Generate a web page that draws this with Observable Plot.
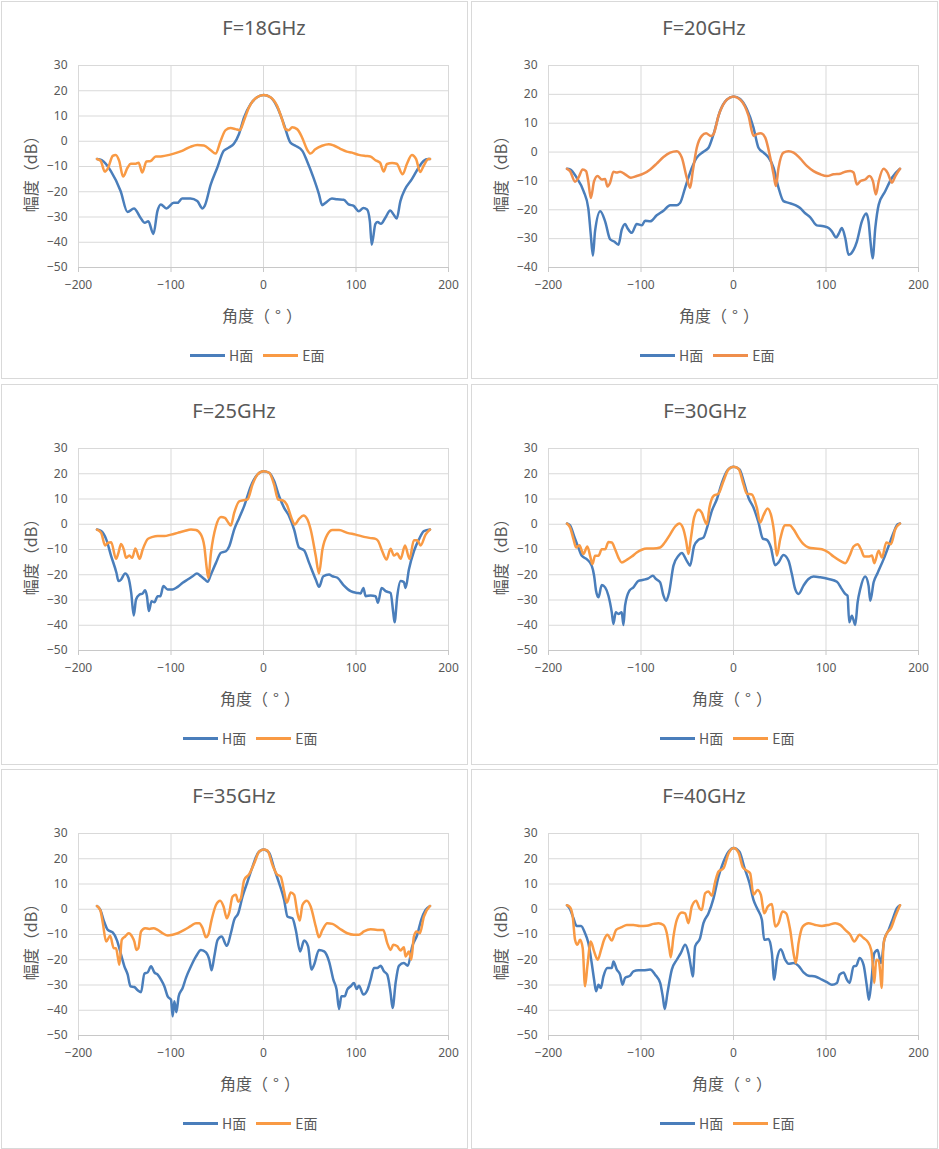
<!DOCTYPE html>
<html><head><meta charset="utf-8">
<script src="https://cdn.jsdelivr.net/npm/d3@7"></script>
<script src="https://cdn.jsdelivr.net/npm/@observablehq/plot@0.6"></script>
<style>
html,body{margin:0;padding:0;background:#fff;}
body{width:939px;height:1149px;position:relative;overflow:hidden;font-family:"Noto Sans","Noto Sans CJK SC",sans-serif;color:#595959;}
.panel{position:absolute;box-shadow:inset 0 0 0 1px #d9d9d9;background:#fff;}
.panel svg{position:absolute;left:0;top:0;}
.ttl{position:absolute;transform:translate(-50%,-50%);font-size:20px;line-height:1;white-space:nowrap;color:#595959;}
.xl{position:absolute;transform:translate(-50%,-50%);font-size:16px;line-height:1;white-space:nowrap;font-family:"Noto Sans CJK SC",sans-serif;color:#595959;}
.xl .fw{display:inline-block;width:1em;text-align:center;}
.yl{position:absolute;transform:translate(-50%,-50%) rotate(-90deg);font-size:16px;line-height:1;white-space:nowrap;font-family:"Noto Sans CJK SC",sans-serif;color:#595959;}
.lg{position:absolute;transform:translateY(-50%);display:flex;align-items:center;font-size:14px;line-height:1;white-space:nowrap;font-family:"Noto Sans CJK SC",sans-serif;color:#595959;}
.lg .sw{display:inline-block;width:35px;height:3px;margin-right:4px;}
.lg .tx{margin-right:10px;}
</style>
</head><body>
<script>
// ---------- data (angle in degrees, amplitude in dB) ----------
const panelTitles = ["F=18GHz","F=20GHz","F=25GHz","F=30GHz","F=35GHz","F=40GHz"];
const seriesNames = ["H面","E面"];
const xTicks = [-200,-100,0,100,200];
const yTicksA = [-50,-40,-30,-20,-10,0,10,20,30];
const yTicksB = [-40,-30,-20,-10,0,10,20,30];

const h18 = [[-180,-7],[-175,-7.5],[-165,-11.8],[-154.5,-19.7],[-147,-28],[-140,-26.6],[-133,-30.3],[-128.4,-32.3],[-124.5,-31.7],[-119,-36.7],[-114.7,-27.7],[-111,-25],[-105,-26.6],[-97,-24.4],[-93,-24.4],[-88,-22.7],[-79,-22.7],[-71.6,-23.7],[-66,-26.6],[-63.7,-25.7],[-57,-17.1],[-50,-10.5],[-43,-3.8],[-37.4,-2.5],[-32,-1],[-26.6,2.8],[-21,9.4],[-14,14.7],[-7,17.4],[0,18.3],[7.5,17.4],[15,13.4],[22,6.8],[29,-0.5],[34.5,-1.8],[42,-3.8],[47,-7.8],[54,-14.4],[60,-21],[63.3,-25.3],[67,-24.4],[74,-22.7],[79.5,-23],[86.7,-23.2],[92,-25],[97.5,-25.6],[103,-27.7],[108,-26.4],[112,-27],[115,-31.7],[117,-41],[121,-32.7],[123.4,-32],[127,-32.7],[131.7,-30.3],[137,-27.4],[140.6,-29],[144,-30.6],[148,-23.7],[153,-19],[160.4,-15],[167.6,-10.5],[173,-7.8],[178,-7],[180,-7]];
const e18 = [[-180,-7],[-176,-7.8],[-171.6,-12],[-168,-10.5],[-163,-5.8],[-159.7,-5.4],[-156,-7.8],[-151.8,-14],[-147,-10.5],[-143.5,-8.9],[-138,-8.9],[-135,-8.5],[-131,-12.4],[-126.6,-8],[-122,-7.8],[-116.5,-6],[-111,-6],[-105.8,-5.7],[-97,-4.9],[-88,-3.8],[-79,-2.2],[-71.6,-1.5],[-64.4,-1.7],[-57,-3.6],[-51.8,-4.9],[-46.4,0.1],[-41,4.4],[-35.6,5.2],[-30.2,4.8],[-25.5,4.4],[-21.2,8.1],[-15.8,13.4],[-8.6,17],[0,18.3],[7.5,17.4],[14.7,14],[20,8.8],[23.7,4.8],[27.3,4.4],[31,5.5],[36.3,4.8],[41.7,1.5],[47,-3.2],[50.7,-4.9],[56,-3.2],[63.3,-1.8],[70.5,-1.2],[76,-1.7],[83,-3],[90,-4.1],[95.7,-4.5],[103,-5.4],[110,-5.8],[115.5,-6],[121,-7.5],[126,-8.5],[130,-12],[133.5,-9],[139,-8.6],[144,-8.9],[150.4,-13.1],[155,-9],[160.4,-5.4],[165,-7.1],[169.4,-12.2],[173,-9.8],[178.4,-7],[180,-7]];

const h20 = [[-180,-5.8],[-176.7,-6],[-169.5,-8.9],[-162,-13.6],[-157,-19.4],[-154.3,-28.6],[-152,-35.9],[-149.7,-27.5],[-144,-20.5],[-138.8,-24],[-133.4,-30.2],[-129,-31],[-124.4,-32.1],[-120.8,-26.9],[-117.2,-24.9],[-114.7,-26.3],[-110,-28],[-104.6,-24.9],[-99,-25.4],[-95.6,-23.8],[-90,-24],[-83,-21.9],[-75.7,-20.3],[-68.5,-18.4],[-61.3,-18.4],[-57.7,-17.6],[-52.3,-12.4],[-45,-5.4],[-39.7,-1.9],[-32.5,0.1],[-27,1.5],[-21.6,6.2],[-14.4,14.3],[-7.2,18.2],[0,19.3],[7.2,18.4],[14.4,14.9],[21.6,8.5],[27,1.5],[32.5,-0.2],[37.9,-1.9],[43.3,-5.4],[48.7,-12.4],[54,-17],[59.5,-17.6],[66.7,-18.4],[72,-19.4],[77.5,-21.2],[83,-22.6],[90,-25.4],[97.4,-25.7],[102.8,-26.3],[106.4,-27.5],[111,-29.6],[113.6,-28.4],[117.2,-26.3],[120.8,-29.8],[124.4,-35.6],[129.8,-33.9],[133.4,-31],[138.8,-24],[143.5,-21.3],[146,-24],[147.9,-30.4],[150.4,-36.8],[153.3,-26.3],[157,-18.2],[164,-13.6],[171.3,-8.9],[180,-5.8]];
const e20 = [[-180,-5.8],[-176.7,-6.6],[-171.3,-10.3],[-167.7,-8.9],[-163,-6],[-159.4,-6.6],[-157,-10.1],[-154.3,-15.9],[-150.7,-10.1],[-147,-8.3],[-142.4,-9.5],[-138.8,-9.3],[-136.3,-11.9],[-133.4,-10.6],[-129.8,-6.8],[-126.2,-7.1],[-122.6,-6.8],[-117.2,-7.7],[-111,-8.9],[-104.6,-8.3],[-97.4,-7.5],[-90,-6],[-83,-4],[-75.7,-1.7],[-68.5,-0.2],[-61.3,0.3],[-55.9,-1.9],[-50.5,-8.9],[-46.9,-12.4],[-44,-6.6],[-39.7,1.5],[-34.3,5.6],[-29.6,6.5],[-24.5,5.6],[-21.6,6.2],[-16.2,12.6],[-7.2,18.2],[0,19.3],[7.2,18.2],[16.2,12.6],[21.6,5.6],[25.2,6.2],[29.6,6.5],[34.3,5],[39.7,-1.9],[43.3,-7.7],[45.8,-11.8],[48.7,-5.4],[54,-0.2],[59.5,0.3],[65,-0.2],[72,-2.2],[79.3,-4.8],[86.5,-6.6],[93.8,-7.7],[101,-8.3],[108.2,-7.7],[115.4,-7.5],[120.8,-6.8],[126.2,-6.6],[129.8,-7.1],[133.4,-11.2],[137,-10.1],[142.4,-9.5],[147,-8.3],[150.7,-10.1],[154,-14.7],[157,-10.1],[162.3,-5.8],[166.6,-7.2],[171.3,-10.6],[175,-8.3],[180,-5.8]];

const h25 = [[-180,-2.1],[-175.5,-2.7],[-170,-6],[-164.7,-12.6],[-159,-19.2],[-156.8,-22.5],[-154,-21.9],[-149.6,-19.5],[-146,-21.2],[-143,-27.2],[-140.3,-36.1],[-137.8,-29.8],[-134,-27.8],[-130.6,-27.4],[-128,-26.1],[-126,-28.5],[-124,-34.4],[-121,-30.5],[-118,-30.9],[-114.4,-28.5],[-111.5,-28.5],[-108.3,-24.5],[-103.6,-25.8],[-98.2,-25.8],[-92.8,-24.8],[-87.4,-23.2],[-82,-21.9],[-76.6,-20.6],[-72,-19.5],[-67.6,-20.6],[-63.3,-21.9],[-60.4,-22.8],[-56.8,-19.9],[-51.4,-15.3],[-46,-11.3],[-40.6,-10.7],[-37,-8.7],[-31.7,-2.1],[-26.3,2.5],[-20.9,7.2],[-13.7,15.1],[-6.5,19.7],[0,21],[6.1,20.4],[11.5,17.1],[16.9,11.1],[22.3,6.5],[27.7,3.2],[33.1,-2.1],[38.5,-9.3],[43.9,-10.3],[49.3,-15.3],[56.5,-21.9],[60,-24.8],[64.7,-20.6],[70.9,-19.9],[74.5,-20.6],[79.9,-21.2],[87,-24.3],[94.2,-26.5],[101.4,-27.2],[105,-27.4],[108,-25.2],[110.4,-28.5],[115.8,-28.2],[121.2,-28.5],[123.7,-31.1],[127.7,-25.2],[132,-26.5],[137.4,-27.2],[140.3,-35.1],[141.7,-38.8],[144.6,-28.5],[148.2,-22.5],[151.8,-22.9],[153.6,-25.2],[157.2,-17.9],[162.6,-10.7],[168,-6],[173.4,-2.7],[180,-2.1]];
const e25 = [[-180,-2.1],[-175.5,-3.4],[-171.2,-8.4],[-168.3,-7.4],[-164.7,-7.1],[-159.4,-13.7],[-156.8,-11.3],[-154,-7.8],[-151,-10],[-148.6,-13.3],[-145,-12.4],[-142,-13.3],[-138.5,-9.6],[-134,-13.7],[-130.6,-10],[-125,-5.8],[-119.8,-5],[-114.4,-4.7],[-107.2,-4.7],[-100,-4.1],[-92.8,-3.4],[-85.6,-2.7],[-78.4,-2.1],[-73,-2.3],[-67.6,-4.1],[-64,-8.7],[-61.2,-17.9],[-59.7,-21.2],[-56.8,-11.3],[-51.4,-0.8],[-46,2.9],[-41.7,2.5],[-38,0.6],[-35.3,-0.5],[-31.7,4.5],[-26.3,9.1],[-21.6,9.5],[-17.3,9.8],[-11.9,15.7],[-6.5,19.7],[0,21],[6.1,20.4],[11.5,15.7],[15.8,9.8],[20.5,9.5],[25.2,7.8],[30.2,2.5],[33.8,-0.1],[38.5,2.1],[43.2,3.5],[47.5,1.9],[51,-2.1],[56.5,-12.6],[60,-19.5],[63.7,-10],[69,-4.1],[74.5,-2.3],[81.7,-2.3],[90.6,-3.4],[99.6,-4.1],[108.6,-5],[115.8,-5.5],[121.2,-5.8],[124,-6.7],[128.4,-10.7],[133,-14],[137.4,-9.7],[141,-12.4],[144.6,-11.6],[148.2,-13.7],[153,-8.4],[157.9,-13.7],[162.6,-6.3],[166.2,-6.3],[169.8,-8.4],[175.2,-4.1],[180,-2.1]];

const h30 = [[-180,0.3],[-176.7,-0.4],[-172.4,-4.6],[-167.7,-9.2],[-164,-12.5],[-158.7,-13.8],[-153.3,-16.4],[-150.7,-20.4],[-148.6,-26.3],[-146,-28.9],[-142.4,-24.1],[-138.8,-25],[-135.2,-28.3],[-131.6,-34.9],[-129.8,-39.5],[-127.3,-34.9],[-124.4,-35.5],[-120.8,-34.9],[-119,-39.9],[-117.2,-32.2],[-112.5,-26.3],[-108.2,-25],[-102.8,-22.4],[-97.4,-22],[-92,-21.4],[-87.3,-20.4],[-83.7,-21.7],[-79.3,-23],[-75.7,-28.3],[-72.8,-30.3],[-69.6,-27],[-64.9,-16.4],[-59.5,-12.5],[-55.9,-11.4],[-50.5,-14.5],[-46.9,-16.4],[-42.6,-8.6],[-37.9,-6.2],[-32.5,-5.3],[-28.1,-0.7],[-23.4,5.3],[-18,9.9],[-12.6,16.4],[-6.5,21.4],[0,22.8],[6.5,21.7],[11.5,16.4],[16.2,10.5],[21.6,6.6],[27,0.7],[31.7,-5.7],[36,-6.2],[40.4,-9.2],[45,-16.2],[48.7,-15.1],[54,-12.2],[59.5,-14.5],[63.1,-19.7],[66.7,-25.7],[70.3,-27.6],[75.7,-24.3],[81.1,-21.7],[86.5,-20.7],[93.8,-21],[102.8,-21.7],[111.8,-22.8],[117.2,-25.7],[120.8,-27.6],[123.3,-28.3],[125.1,-38.8],[128,-36.2],[131.6,-39.9],[134.2,-30.9],[137,-25.7],[142.4,-20.7],[146,-24.3],[147.9,-30.3],[151.5,-23],[155.8,-19.3],[162.3,-13.8],[167.7,-8.6],[173.1,-3.3],[177.4,0],[180,0.3]];
const e30 = [[-180,0.3],[-176.7,-1.3],[-173,-5.9],[-170.2,-9.2],[-166.6,-8.3],[-162.3,-11.8],[-158,-8.8],[-155,-12.5],[-152.5,-15.8],[-149.7,-12.5],[-146,-12.5],[-142.4,-9.9],[-138.8,-9.9],[-135.2,-7],[-131.6,-7.2],[-128,-9.9],[-124.4,-13.2],[-120.8,-15.1],[-115.4,-14.1],[-110,-12.8],[-104.6,-11.2],[-99.2,-10.1],[-93.8,-9.6],[-86.5,-9.6],[-79.3,-9.2],[-73.9,-7],[-68.5,-4],[-63.1,-0.9],[-58.4,0.3],[-54.1,-2],[-51.2,-6.6],[-48.7,-11.8],[-46.2,-5.9],[-42.6,2.6],[-37.9,5.7],[-34.3,4.6],[-31.4,1.7],[-28.8,0],[-26,6.6],[-21.6,11.2],[-16.2,12.1],[-11.5,16.4],[-5.4,21.7],[0,22.8],[5.4,22],[10.8,15.8],[14.4,12.1],[19.8,11.8],[25.2,6.6],[28.8,0.7],[32.5,3.6],[36.8,6.2],[40.4,3.9],[44,-3.3],[46.9,-12.5],[50.5,-5.9],[55.9,-0.4],[60.6,-0.4],[64.9,-2],[70.3,-5.3],[75.7,-7.9],[81.1,-9.2],[88.4,-9.6],[95.6,-9.9],[102.8,-11.2],[108.2,-12.8],[115.4,-14.5],[120.8,-15.4],[125.5,-12.5],[129.8,-8.8],[134.2,-7.9],[137.8,-9.9],[141.4,-12.8],[146,-12.8],[149.7,-12.4],[152.2,-15.4],[156.9,-10.5],[160.5,-13.2],[165.2,-7.2],[170.2,-7.9],[174.9,-2],[180,0.3]];

const h35 = [[-180,1.3],[-176.3,-0.3],[-172.7,-4.5],[-168.3,-8.2],[-163,-9.2],[-158.3,-12.4],[-154,-18],[-150.4,-22.6],[-146.8,-25.9],[-143.9,-30.5],[-139.6,-30.8],[-136,-32.1],[-132.4,-32.9],[-128.8,-25.5],[-125.2,-25],[-121.6,-22.6],[-118,-25],[-114.4,-25.9],[-110.8,-27.9],[-107.2,-30.5],[-103.6,-34.5],[-100,-35.8],[-98.2,-42.4],[-96.4,-36.4],[-94.2,-40.8],[-91.7,-34.5],[-87.4,-31.2],[-83.8,-27.2],[-78.4,-22.6],[-73,-18.7],[-67.6,-16.1],[-62.2,-17.1],[-58.6,-20],[-56.1,-24.2],[-53.2,-18.7],[-49.6,-12.1],[-45.3,-10.8],[-39.6,-14.5],[-35.3,-9.5],[-31.7,-4.2],[-27.3,-1.6],[-22.7,5],[-17.3,10.9],[-11.9,16.8],[-5.8,22.4],[0,23.7],[6.1,22.4],[11.5,16.2],[16.9,10.3],[22.3,3.7],[25.9,-2.9],[31.3,-3.6],[34.9,-8.2],[39.6,-16.7],[43.9,-12.4],[48.2,-14.7],[51.8,-23.9],[54.7,-22],[60,-16.1],[65.5,-16.7],[70.9,-20.7],[75.5,-27.9],[79,-31.8],[81.7,-39.5],[84.2,-34.5],[87.8,-34.5],[90.6,-31.8],[94.2,-30.5],[97.8,-29.2],[100.7,-31.6],[103.2,-30.3],[108,-33.8],[112.2,-32.1],[115.8,-27.9],[119.4,-23.3],[123,-23.3],[126.6,-22.4],[130.2,-24.6],[133.8,-25.9],[137.4,-33.2],[139.6,-39.1],[142.8,-29.2],[146.4,-22.4],[151.8,-21.3],[156,-22.4],[160.8,-14.7],[166.2,-10.1],[170.5,-4.2],[175.2,-0.3],[180,1.3]];
const e35 = [[-180,1.3],[-176.3,-0.5],[-173.7,-5.5],[-170.1,-12.8],[-165.8,-10.5],[-161.9,-15.4],[-159.4,-15.4],[-157.6,-18.7],[-155.8,-22],[-153.2,-12.1],[-149.6,-10.8],[-145.7,-9.5],[-142,-10.8],[-139.6,-12.8],[-137.4,-16.1],[-135.3,-15.4],[-132.4,-8.8],[-128,-7.5],[-123.4,-7.8],[-118.7,-7.5],[-114.4,-8.2],[-109,-9.5],[-103.6,-10.4],[-98.2,-10.1],[-92.8,-9.5],[-85.6,-8.2],[-78.4,-6.6],[-73,-5.5],[-69.4,-5.5],[-65.8,-7.5],[-62.2,-11.1],[-59.7,-10.1],[-56.1,-4.2],[-51.4,1.7],[-46.8,3.4],[-43.2,1.1],[-39.6,-3.6],[-37,-1.3],[-33.5,5],[-29.9,5.7],[-27.3,3],[-24.5,4.3],[-20.9,11.6],[-15.5,13.9],[-10,18.2],[-4.7,22.8],[0,23.7],[4.3,23.2],[9.7,17.5],[14.4,13.9],[18.7,12.9],[22.3,7],[25.2,2.6],[29.5,6.6],[33.1,5.7],[36.7,-1.6],[39.2,-4.5],[42.1,1.7],[46.8,3.4],[51,1.1],[56.5,-6.8],[60,-11.1],[63.7,-8.2],[69,-5.5],[74.5,-5.8],[81.7,-7.5],[90.6,-9.5],[97.8,-10.1],[103.2,-10.1],[108.6,-8.8],[115.8,-7.9],[123,-8.2],[129.5,-8.2],[133.8,-13.4],[137.4,-16.1],[140.3,-14.1],[144.6,-14.7],[148.2,-16.3],[151.8,-15],[153.6,-18.7],[157.2,-16.7],[159.7,-20],[162.6,-10.8],[165.5,-8.8],[169,-9.5],[173.4,-2.9],[180,1.3]];

const h40 = [[-180,1.6],[-176.7,0],[-173,-3.6],[-169.5,-6.6],[-164.8,-6.6],[-160.5,-9.5],[-156.9,-13.4],[-153.3,-21.3],[-150.7,-27.9],[-148.6,-32.5],[-146,-29.9],[-143.5,-31.2],[-140.6,-26.6],[-136.3,-23.3],[-131.6,-23.3],[-129.8,-20.7],[-126.2,-23.9],[-122.6,-25.9],[-120,-29.9],[-117.2,-27.2],[-111.8,-26.3],[-108.2,-24.6],[-102.8,-24.2],[-97.4,-24.2],[-90.2,-23.9],[-84.7,-25.9],[-79.3,-29.2],[-76.5,-34.5],[-74.3,-39.5],[-71.4,-33.2],[-66.7,-23.9],[-61.3,-20],[-57,-17.4],[-52.3,-14.1],[-48.7,-17.4],[-45.8,-23.3],[-44,-26.6],[-41.5,-14.7],[-36.1,-11.4],[-32.5,-5.5],[-27,-1.6],[-21.6,4.3],[-16.2,12.9],[-10.8,18.8],[-5.4,22.8],[0,24.3],[6.5,22.8],[11.5,16.8],[17.3,10.3],[21.6,3.7],[26,0],[30.7,-4.2],[33.2,-12.1],[37.9,-11.8],[41.5,-17.4],[44,-27.9],[46.9,-20],[51.2,-15.8],[55.9,-20],[59.5,-21.6],[64.9,-21.3],[70.3,-22.4],[75.7,-25],[81.1,-26.3],[88.4,-26.6],[95.6,-27.9],[101,-28.9],[106.4,-29.9],[111.8,-29.2],[114.7,-25.9],[119,-25],[122.6,-27.9],[125.5,-29.2],[129.8,-22.6],[132.7,-22.4],[136.3,-19.3],[140.6,-22],[144.2,-30.5],[146.4,-35.8],[148.9,-29.2],[152.2,-17.4],[155.8,-16.1],[159.4,-21.3],[163,-12.1],[167.7,-8.2],[172.4,-3.6],[176.7,0.4],[180,1.6]];
const e40 = [[-180,1.6],[-176.7,0.8],[-173.8,-2.9],[-171.3,-12.1],[-168.8,-14.1],[-165.9,-12.1],[-163,-15.4],[-160.5,-30.5],[-158,-22.6],[-154.3,-12.8],[-150.7,-16.7],[-146.8,-20],[-143.2,-16.1],[-139.9,-12.1],[-136.3,-10.1],[-131.6,-12.4],[-126.9,-8.2],[-120.8,-7.1],[-115.4,-6.2],[-108.2,-6.2],[-101,-6.6],[-93.8,-6.5],[-86.5,-5.8],[-81.1,-5.5],[-75.7,-6.2],[-72.1,-9.5],[-69.2,-16.1],[-67.8,-19],[-64.9,-10.8],[-61.3,-4.2],[-55.9,-1.3],[-52.3,-1.6],[-48.7,-5.5],[-45.1,1.1],[-40.4,3.4],[-36.8,0.4],[-34.3,-0.3],[-30.7,6.3],[-27,7],[-23.4,5.3],[-19.8,10.9],[-16.2,14.9],[-10.8,16.2],[-5.4,22.1],[0,24.3],[5.4,22.4],[10.1,16.6],[14.4,15.3],[18,14.2],[21.6,5.7],[26,7.6],[29.6,5.7],[33.2,-1.6],[37.1,1.1],[41.5,2.1],[45.1,-6.8],[48.7,-5.5],[53,-0.9],[57,-1.6],[61.3,-8.2],[64.9,-17.4],[67.4,-21.3],[70.3,-13.4],[75,-6.8],[81.1,-5.5],[88.4,-6.2],[95.6,-6.6],[102.8,-6.2],[110,-5.5],[115.4,-6.2],[120.8,-8.2],[126.2,-10.1],[130.5,-12.8],[136.3,-10.1],[140.6,-11.4],[145,-12.8],[148.9,-16.1],[150.7,-22.6],[152.2,-29.2],[154.3,-20],[156.9,-20.3],[158.7,-25.3],[160.1,-31.2],[162.3,-13.4],[165.9,-9.5],[170.2,-7.5],[174.9,-2.9],[180,1.6]];

// ---------- layout / style ----------
const BLUE = "#4A7EBB";
const panels = [
  {h:h18, e:e18, yt:yTicksA, orange:"#F99A44", left:1,   top:1,   hgt:378, tx:263, lx:261, lgx:189},
  {h:h20, e:e20, yt:yTicksB, orange:"#EF8E4C", left:471, top:1,   hgt:378, tx:233, lx:248, lgx:169},
  {h:h25, e:e25, yt:yTicksA, orange:"#F99A44", left:1,   top:384, hgt:381, tx:233, lx:259, lgx:182},
  {h:h30, e:e30, yt:yTicksA, orange:"#F99A44", left:471, top:384, hgt:381, tx:234, lx:261, lgx:189},
  {h:h35, e:e35, yt:yTicksA, orange:"#F99A44", left:1,   top:769, hgt:380, tx:233, lx:259, lgx:182},
  {h:h40, e:e40, yt:yTicksA, orange:"#F99A44", left:471, top:769, hgt:380, tx:233, lx:261, lgx:189}
];
const FONT = '"Noto Sans","Noto Sans CJK SC",sans-serif';

panels.forEach((p, i) => {
  const div = document.createElement("div");
  div.className = "panel";
  Object.assign(div.style, {left: p.left + "px", top: p.top + "px", width: "467px", height: p.hgt + "px"});
  document.body.appendChild(div);

  const yMin = p.yt[0], yMax = p.yt[p.yt.length - 1];
  const chart = Plot.plot({
    width: 467, height: 378,
    marginLeft: 77, marginRight: 20, marginTop: 64, marginBottom: 112,
    style: {fontFamily: FONT, fontSize: "12px", color: "#595959", background: "none", overflow: "visible"},
    x: {domain: [-200, 200], ticks: xTicks, tickSize: 0, tickPadding: 13, label: null},
    y: {domain: [yMin, yMax], ticks: p.yt, tickSize: 0, tickPadding: 11, label: null},
    marks: [
      Plot.ruleY(p.yt, {stroke: "#d9d9d9", strokeWidth: 1}),
      Plot.ruleX(xTicks, {stroke: "#d9d9d9", strokeWidth: 1}),
      Plot.ruleY([yMin], {stroke: "#c8c8c8", strokeWidth: 1}),
      Plot.ruleX(xTicks, {y1: yMin, y2: yMin, insetBottom: -5, stroke: "#c8c8c8", strokeWidth: 1}),
      Plot.line(p.h, {x: d => d[0], y: d => d[1], stroke: BLUE, strokeWidth: 2.5, curve: "monotone-x"}),
      Plot.line(p.e, {x: d => d[0], y: d => d[1], stroke: p.orange, strokeWidth: 2.5, curve: "monotone-x"})
    ]
  });
  div.appendChild(chart);

  const t = document.createElement("div");
  t.className = "ttl"; t.textContent = panelTitles[i];
  Object.assign(t.style, {left: p.tx + "px", top: "27px"});
  div.appendChild(t);

  const xl = document.createElement("div");
  xl.className = "xl";
  xl.innerHTML = '角度（<span class="fw">°</span>）';
  Object.assign(xl.style, {left: p.lx + "px", top: "314px"});
  div.appendChild(xl);

  const yl = document.createElement("div");
  yl.className = "yl"; yl.textContent = "幅度（dB）";
  Object.assign(yl.style, {left: "29px", top: "169px"});
  div.appendChild(yl);

  const lg = document.createElement("div");
  lg.className = "lg";
  Object.assign(lg.style, {left: p.lgx + "px", top: "354px"});
  [[seriesNames[0], BLUE], [seriesNames[1], p.orange]].forEach(([name, col]) => {
    const sw = document.createElement("span"); sw.className = "sw"; sw.style.background = col;
    const tx = document.createElement("span"); tx.className = "tx"; tx.textContent = name;
    lg.appendChild(sw); lg.appendChild(tx);
  });
  div.appendChild(lg);
});
</script>
</body></html>
